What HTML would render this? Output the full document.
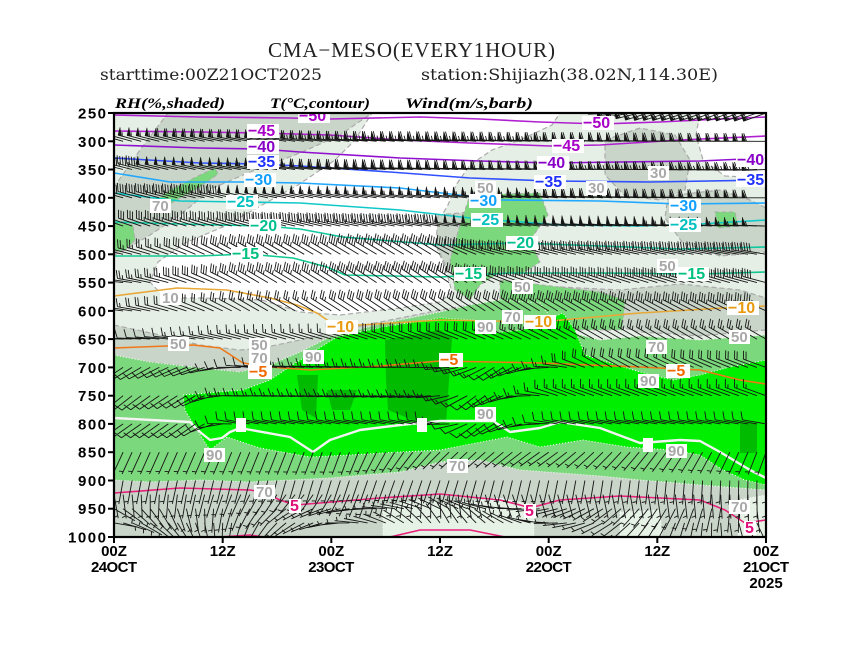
<!DOCTYPE html>
<html><head><meta charset="utf-8">
<style>
html,body{margin:0;padding:0;background:#fff;}
svg{display:block;}
.ax{font-family:"Liberation Sans",sans-serif;font-weight:bold;font-size:15px;fill:#000;}
.tl{font-family:"Liberation Sans",sans-serif;font-weight:bold;font-size:16px;}
.rl{font-family:"Liberation Sans",sans-serif;font-weight:bold;font-size:15px;fill:#a8a8a8;}
.hd{font-family:"Liberation Serif",serif;font-weight:bold;font-style:italic;font-size:15px;fill:#000;}
.ti{font-family:"Liberation Serif",serif;font-size:21px;fill:#222;}
.st{font-family:"DejaVu Serif","Liberation Serif",serif;font-size:16px;fill:#222;}
</style></head>
<body>
<svg id="s" width="844" height="652" viewBox="0 0 844 652" xmlns="http://www.w3.org/2000/svg">
<defs><clipPath id="pc"><rect x="114" y="113" width="652" height="424"/></clipPath></defs>
<rect width="844" height="652" fill="#fff"/>
<text class="ti" x="268" y="57" textLength="287" lengthAdjust="spacing">CMA−MESO(EVERY1HOUR)</text>
<text class="st" x="100" y="80" textLength="222" lengthAdjust="spacingAndGlyphs">starttime:00Z21OCT2025</text>
<text class="st" x="421" y="80" textLength="297" lengthAdjust="spacingAndGlyphs">station:Shijiazh(38.02N,114.30E)</text>
<text class="hd" x="115" y="108" textLength="110" lengthAdjust="spacingAndGlyphs">RH(%,shaded)</text>
<text class="hd" x="270" y="108" textLength="100" lengthAdjust="spacingAndGlyphs">T(°C,contour)</text>
<text class="hd" x="405" y="108" textLength="128" lengthAdjust="spacingAndGlyphs">Wind(m/s,barb)</text>

<g clip-path="url(#pc)">
<!-- RH shading -->
<rect x="114" y="113" width="652" height="250" fill="#e6efe6"/>
<g stroke="#aaaaaa" stroke-width="1.2" stroke-dasharray="5,3">
<polygon fill="#ffffff" points="372,113 560,113 552,125 520,140 492,150 470,165 456,185 448,205 438,222 436,245 446,270 452,292 440,302 400,308 340,315 300,312 262,300 205,298 165,298 150,282 158,262 185,243 225,226 262,205 298,185 335,160 355,140"/>
<polygon fill="#ffffff" points="700,113 766,113 766,178 725,176 703,160 696,135"/>
<polygon fill="#c8d5c8" points="168,113 372,113 340,135 300,153 250,172 213,188 180,215 150,235 125,250 114,255 114,187 140,150"/>
<polygon fill="#c8d5c8" points="605,140 640,128 675,135 690,160 685,190 660,200 625,196 605,175"/>
<polygon fill="#c8d5c8" points="668,196 720,190 750,200 766,208 766,252 720,256 682,242 665,218"/>
<polygon fill="#c8d5c8" points="438,215 470,212 482,238 472,265 448,270 436,245"/>
<polygon fill="#c8d5c8" points="560,287 620,290 680,284 740,290 766,298 766,330 700,336 640,332 600,322 572,305"/>
<polygon fill="#c8d5c8" points="114,325 160,335 200,345 240,350 262,348 300,340 340,330 380,322 440,310 470,305 470,330 440,320 383,327 337,337 300,355 270,365 240,372 200,368 150,362 114,358"/>
</g>
<g fill="#7cd87c" stroke="#aaaaaa" stroke-width="1" stroke-dasharray="4,3">
<polygon points="114,222 133,225 135,240 125,250 114,252"/>
<polygon points="715,212 735,212 738,226 718,228"/>
<polygon points="150,205 170,190 200,175 215,168 218,174 200,187 175,201 158,211"/>
<polygon points="470,195 540,193 548,215 530,240 540,262 520,275 500,272 480,285 470,300 455,290 450,260 460,225"/>
<polygon points="500,280 560,287 600,292 625,300 622,330 540,330 500,320"/>
</g>
<rect x="114" y="440" width="652" height="97" fill="#c8d5c8"/>
<g fill="#e6f2e6" stroke="#ffffff" stroke-width="1" stroke-dasharray="1,2">
<polygon points="383,507 420,500 449,503 500,498 534,505 534,537 383,537"/>
<polygon points="620,512 660,510 662,537 620,537"/>
<polygon points="738,500 766,495 766,537 738,537"/>
</g>
<polygon fill="#7cd87c" stroke="#ffffff" stroke-width="1" stroke-dasharray="1,2" points="114,355 150,362 200,368 240,372 270,365 300,352 330,337 380,324 440,312 470,305 500,300 540,303 560,330 600,340 640,336 700,340 766,335 766,490 700,485 640,480 600,476 520,470 480,460 440,462 400,472 330,478 250,482 200,480 150,482 114,480"/>
<polygon fill="#00ee00" stroke="#ffffff" stroke-width="1" stroke-dasharray="1,2" points="183,395 243,390 270,380 297,362 337,337 383,327 440,318 473,320 493,333 523,330 563,313 575,330 585,355 607,362 640,372 673,380 700,375 730,367 766,360 766,485 745,480 723,470 700,455 673,450 627,447 583,440 540,447 507,437 440,450 400,452 350,455 310,457 260,448 227,437 210,450 197,430 185,410"/>
<g fill="#00bb00">
<polygon points="297,375 318,375 316,418 302,410"/>
<polygon points="327,390 357,390 350,410 332,410"/>
<polygon points="385,340 440,330 452,338 446,423 420,423 388,410 386,380"/>
<polygon points="740,423 757,423 757,453 740,453"/>
</g>

<!-- temperature contours -->
<g fill="none" stroke-width="1.6" stroke-linejoin="round">
<polyline stroke="#b020d0" points="114,115 200,117 290,118 330,119 420,117 480,119 540,122 600,124 660,122 720,119 766,117"/>
<polyline stroke="#b020d0" points="114,131 200,132 260,133 330,135 400,140 470,143 550,146 600,145 680,140 766,136"/>
<polyline stroke="#9010d0" points="114,145 200,148 260,149 300,152 400,158 480,161 550,163 620,162 700,161 766,158"/>
<polyline stroke="#3050ff" points="114,158 200,163 260,164 300,166 390,172 470,178 550,181 650,182 766,180"/>
<polyline stroke="#20a8ff" points="114,173 170,182 240,182 300,183 400,188 450,194 500,200 600,201 680,204 766,203"/>
<polyline stroke="#10c8c8" points="114,193 180,201 240,202 300,203 400,210 470,218 560,225 640,226 700,224 766,220"/>
<polyline stroke="#10c8a0" points="114,222 180,224 265,226 300,229 343,237 440,245 520,243 600,246 680,249 766,247"/>
<polyline stroke="#10c890" points="114,256 200,256 247,254 293,258 327,267 345,275 440,277 510,273 600,273 700,274 766,272"/>
<polyline stroke="#e8a838" points="114,296 177,288 227,290 270,298 297,305 317,313 330,322 360,325 440,320 540,322 640,313 723,308 766,306"/>
<polyline stroke="#f07818" points="114,348 193,345 220,348 243,363 270,367 310,370 380,366 440,361 540,363 640,367 700,370 740,380 766,384"/>
<polyline stroke="#e8207a" points="114,493 180,488 250,490 262,492 280,500 295,505 320,503 380,498 440,494 500,500 520,505 530,508 560,500 620,496 700,500 725,510 745,523 766,520"/>
<polyline stroke="#e8207a" points="205,538 250,535 270,538"/>
<polyline stroke="#e8207a" points="390,537 420,530 470,530 510,538"/>
<polyline stroke="#f4f4f4" stroke-width="2.4" points="114,418 190,422 200,432 210,440 222,438 230,432 240,428 290,437 313,452 330,440 360,430 400,425 440,421 493,421 510,432 540,428 560,422 600,428 640,443 680,440 700,441 720,452 750,470 766,478"/>
</g>

<g id="barbs" fill="none" stroke="#151515" stroke-width="0.9"></g>
<g id="pens" fill="#151515" stroke="#151515" stroke-width="0.5"></g>

<!-- RH labels -->
<g>
<rect x="150" y="199" width="21" height="14" fill="#fff"/><text class="rl" x="152" y="211">70</text>
<rect x="475" y="181" width="21" height="14" fill="#fff"/><text class="rl" x="477" y="193">50</text>
<rect x="648" y="166" width="21" height="14" fill="#fff"/><text class="rl" x="650" y="178">30</text>
<rect x="586" y="181" width="21" height="14" fill="#fff"/><text class="rl" x="588" y="193">30</text>
<rect x="160" y="291" width="21" height="14" fill="#fff"/><text class="rl" x="162" y="303">10</text>
<rect x="168" y="337" width="21" height="14" fill="#fff"/><text class="rl" x="170" y="349">50</text>
<rect x="249" y="338" width="21" height="14" fill="#fff"/><text class="rl" x="251" y="350">50</text>
<rect x="249" y="351" width="21" height="14" fill="#fff"/><text class="rl" x="251" y="363">70</text>
<rect x="303" y="350" width="21" height="14" fill="#fff"/><text class="rl" x="305" y="362">90</text>
<rect x="502" y="310" width="21" height="14" fill="#fff"/><text class="rl" x="504" y="322">70</text>
<rect x="475" y="320" width="21" height="14" fill="#fff"/><text class="rl" x="477" y="332">90</text>
<rect x="512" y="280" width="21" height="14" fill="#fff"/><text class="rl" x="514" y="292">50</text>
<rect x="657" y="259" width="21" height="14" fill="#fff"/><text class="rl" x="659" y="271">50</text>
<rect x="729" y="330" width="21" height="14" fill="#fff"/><text class="rl" x="731" y="342">50</text>
<rect x="646" y="340" width="21" height="14" fill="#fff"/><text class="rl" x="648" y="352">70</text>
<rect x="638" y="374" width="21" height="14" fill="#fff"/><text class="rl" x="640" y="386">90</text>
<rect x="475" y="407" width="21" height="14" fill="#fff"/><text class="rl" x="477" y="419">90</text>
<rect x="666" y="444" width="21" height="14" fill="#fff"/><text class="rl" x="668" y="456">90</text>
<rect x="447" y="459" width="21" height="14" fill="#fff"/><text class="rl" x="449" y="471">70</text>
<rect x="204" y="448" width="21" height="14" fill="#fff"/><text class="rl" x="206" y="460">90</text>
<rect x="254" y="485" width="21" height="14" fill="#fff"/><text class="rl" x="256" y="497">70</text>
<rect x="729" y="500" width="21" height="14" fill="#fff"/><text class="rl" x="731" y="512">70</text>
<rect x="236" y="418" width="10" height="14" fill="#fff"/>
<rect x="417" y="418" width="10" height="14" fill="#fff"/>
<rect x="643" y="438" width="10" height="14" fill="#fff"/>
</g>
<!-- T labels -->
<g>
<rect x="298" y="109" width="32" height="14" fill="#fff"/><text class="tl" fill="#a800c8" x="299" y="121">−50</text>
<rect x="582" y="116" width="32" height="14" fill="#fff"/><text class="tl" fill="#a800c8" x="583" y="128">−50</text>
<rect x="247" y="124" width="32" height="14" fill="#fff"/><text class="tl" fill="#a800c8" x="248" y="136">−45</text>
<rect x="552" y="139" width="32" height="14" fill="#fff"/><text class="tl" fill="#a800c8" x="553" y="151">−45</text>
<rect x="247" y="140" width="32" height="14" fill="#fff"/><text class="tl" fill="#8800c8" x="248" y="152">−40</text>
<rect x="537" y="156" width="32" height="14" fill="#fff"/><text class="tl" fill="#8800c8" x="538" y="168">−40</text>
<rect x="736" y="153" width="32" height="14" fill="#fff"/><text class="tl" fill="#8800c8" x="737" y="165">−40</text>
<rect x="247" y="155" width="32" height="14" fill="#fff"/><text class="tl" fill="#2030ff" x="248" y="167">−35</text>
<rect x="534" y="175" width="32" height="14" fill="#fff"/><text class="tl" fill="#2030ff" x="535" y="187">−35</text>
<rect x="736" y="173" width="32" height="14" fill="#fff"/><text class="tl" fill="#2030ff" x="737" y="185">−35</text>
<rect x="244" y="173" width="32" height="14" fill="#fff"/><text class="tl" fill="#10a0ff" x="245" y="185">−30</text>
<rect x="469" y="194" width="32" height="14" fill="#fff"/><text class="tl" fill="#10a0ff" x="470" y="206">−30</text>
<rect x="669" y="199" width="32" height="14" fill="#fff"/><text class="tl" fill="#10a0ff" x="670" y="211">−30</text>
<rect x="226" y="195" width="32" height="14" fill="#fff"/><text class="tl" fill="#00c0c0" x="227" y="207">−25</text>
<rect x="471" y="213" width="32" height="14" fill="#fff"/><text class="tl" fill="#00c0c0" x="472" y="225">−25</text>
<rect x="669" y="218" width="32" height="14" fill="#fff"/><text class="tl" fill="#00c0c0" x="670" y="230">−25</text>
<rect x="249" y="219" width="32" height="14" fill="#fff"/><text class="tl" fill="#00c090" x="250" y="231">−20</text>
<rect x="506" y="236" width="32" height="14" fill="#fff"/><text class="tl" fill="#00c090" x="507" y="248">−20</text>
<rect x="231" y="247" width="32" height="14" fill="#fff"/><text class="tl" fill="#00c080" x="232" y="259">−15</text>
<rect x="454" y="267" width="32" height="14" fill="#fff"/><text class="tl" fill="#00c080" x="455" y="279">−15</text>
<rect x="677" y="267" width="32" height="14" fill="#fff"/><text class="tl" fill="#00c080" x="678" y="279">−15</text>
<rect x="326" y="320" width="32" height="14" fill="#fff"/><text class="tl" fill="#e89a10" x="327" y="332">−10</text>
<rect x="524" y="315" width="32" height="14" fill="#fff"/><text class="tl" fill="#e89a10" x="525" y="327">−10</text>
<rect x="727" y="301" width="32" height="14" fill="#fff"/><text class="tl" fill="#e89a10" x="728" y="313">−10</text>
<rect x="248" y="365" width="24" height="14" fill="#fff"/><text class="tl" fill="#f06a00" x="249" y="377">−5</text>
<rect x="439" y="353" width="24" height="14" fill="#fff"/><text class="tl" fill="#f06a00" x="440" y="365">−5</text>
<rect x="666" y="364" width="24" height="14" fill="#fff"/><text class="tl" fill="#f06a00" x="667" y="376">−5</text>
<rect x="289" y="499" width="12" height="14" fill="#fff"/><text class="tl" fill="#e0107a" x="290" y="511">5</text>
<rect x="524" y="504" width="12" height="14" fill="#fff"/><text class="tl" fill="#e0107a" x="525" y="516">5</text>
<rect x="744" y="521" width="12" height="14" fill="#fff"/><text class="tl" fill="#e0107a" x="745" y="533">5</text>
</g>
</g>

<!-- frame & axes -->
<rect x="114" y="113" width="652" height="424" fill="none" stroke="#000" stroke-width="2.2"/>
<g stroke="#000" stroke-width="2">
<line x1="108" y1="113" x2="114" y2="113"/><line x1="108" y1="141.3" x2="114" y2="141.3"/>
<line x1="108" y1="169.5" x2="114" y2="169.5"/><line x1="108" y1="197.8" x2="114" y2="197.8"/>
<line x1="108" y1="226.1" x2="114" y2="226.1"/><line x1="108" y1="254.3" x2="114" y2="254.3"/>
<line x1="108" y1="282.6" x2="114" y2="282.6"/><line x1="108" y1="310.9" x2="114" y2="310.9"/>
<line x1="108" y1="339.1" x2="114" y2="339.1"/><line x1="108" y1="367.4" x2="114" y2="367.4"/>
<line x1="108" y1="395.7" x2="114" y2="395.7"/><line x1="108" y1="423.9" x2="114" y2="423.9"/>
<line x1="108" y1="452.2" x2="114" y2="452.2"/><line x1="108" y1="480.5" x2="114" y2="480.5"/>
<line x1="108" y1="508.7" x2="114" y2="508.7"/><line x1="108" y1="537" x2="114" y2="537"/>
<line x1="114" y1="537" x2="114" y2="543"/><line x1="222.7" y1="537" x2="222.7" y2="543"/>
<line x1="331.3" y1="537" x2="331.3" y2="543"/><line x1="440" y1="537" x2="440" y2="543"/>
<line x1="548.7" y1="537" x2="548.7" y2="543"/><line x1="657.3" y1="537" x2="657.3" y2="543"/>
<line x1="766" y1="537" x2="766" y2="543"/>
</g>
<g class="ax" text-anchor="end">
<text x="106" y="118.5" textLength="28">250</text>
<text x="106" y="146.8" textLength="28">300</text>
<text x="106" y="175" textLength="28">350</text>
<text x="106" y="203.3" textLength="28">400</text>
<text x="106" y="231.6" textLength="28">450</text>
<text x="106" y="259.8" textLength="28">500</text>
<text x="106" y="288.1" textLength="28">550</text>
<text x="106" y="316.4" textLength="28">600</text>
<text x="106" y="344.6" textLength="28">650</text>
<text x="106" y="372.9" textLength="28">700</text>
<text x="106" y="401.2" textLength="28">750</text>
<text x="106" y="429.4" textLength="28">800</text>
<text x="106" y="457.7" textLength="28">850</text>
<text x="106" y="486" textLength="28">900</text>
<text x="106" y="514.2" textLength="28">950</text>
<text x="106" y="542.5" textLength="38">1000</text>
</g>
<g class="ax" text-anchor="middle">
<text x="114" y="556">00Z</text><text x="114" y="572" textLength="46">24OCT</text>
<text x="222.7" y="556">12Z</text>
<text x="331.3" y="556">00Z</text><text x="331.3" y="572" textLength="46">23OCT</text>
<text x="440" y="556">12Z</text>
<text x="548.7" y="556">00Z</text><text x="548.7" y="572" textLength="46">22OCT</text>
<text x="657.3" y="556">12Z</text>
<text x="766" y="556">00Z</text><text x="766" y="572" textLength="46">21OCT</text>
<text x="766" y="588">2025</text>
</g>
</svg>
<script>
(function(){
var rows=[
[250,[[114,278,55],[600,272,60],[650,252,60],[766,250,60]]],
[300,[[114,286,55],[350,276,65],[766,270,60]]],
[350,[[114,285,45],[350,276,60],[766,268,65]]],
[400,[[114,286,40],[350,280,55],[766,270,60]]],
[450,[[114,290,30],[350,282,45],[766,272,55]]],
[500,[[114,282,20],[250,300,35],[440,302,40],[500,285,45],[766,280,40]]],
[550,[[114,275,20],[250,300,35],[440,305,40],[520,290,35],[766,285,40]]],
[600,[[114,275,15],[250,300,25],[440,305,30],[600,300,35],[766,295,35]]],
[650,[[114,270,10],[250,285,15],[440,290,20],[600,300,25],[766,300,25]]],
[700,[[114,235,10],[200,250,12],[250,275,12],[440,270,15],[500,235,12],[600,300,20],[766,290,20]]],
[750,[[114,230,12],[200,240,12],[230,270,15],[440,265,15],[480,230,12],[560,290,15],[766,290,15]]],
[800,[[114,235,10],[200,235,10],[240,280,10],[440,280,12],[480,230,10],[560,280,10],[766,280,10]]],
[850,[[114,205,7],[350,200,7],[440,225,7],[550,235,7],[700,210,7],[766,200,7]]],
[900,[[114,190,6],[400,200,6],[766,180,6]]],
[925,[[114,170,6],[300,220,6],[500,160,6],[766,180,6]]],
[950,[[114,120,6],[300,240,6],[450,300,6],[766,170,6]]],
[975,[[114,100,5],[300,240,5],[450,330,5],[766,150,5]]],
[1000,[[114,90,5],[766,160,5]]]
];
function interp(c,x){
 if(x<=c[0][0])return [c[0][1],c[0][2]];
 for(var i=1;i<c.length;i++){
  if(x<=c[i][0]){var a=c[i-1],b=c[i],t=(x-a[0])/(b[0]-a[0]);
   return [a[1]+(b[1]-a[1])*t,a[2]+(b[2]-a[2])*t];}
 }
 var l=c[c.length-1];return [l[1],l[2]];
}
function f(v){return v.toFixed(1);}
var d='',tri='';
for(var r=0;r<rows.length;r++){
 var p=rows[r][0],c=rows[r][1];
 var y0=113+(p-250)*424/750;
 for(var i=0;i<=72;i++){
  var x0=114+i*652/72;
  var ds=interp(c,x0),dir=ds[0],spd=ds[1];
  var a=dir*Math.PI/180,ux=Math.sin(a),uy=-Math.cos(a),nx=-uy,ny=ux;
  var L=24,F=8,sp=2.7;
  d+='M'+f(x0)+' '+f(y0)+'L'+f(x0+ux*L)+' '+f(y0+uy*L);
  var s=Math.round(spd/5)*5+0.01,pos=L;
  while(s>=50){
   var ax=x0+ux*pos,ay=y0+uy*pos,bx=x0+ux*(pos-3.5),by=y0+uy*(pos-3.5);
   tri+='M'+f(ax)+' '+f(ay)+'L'+f(ax+nx*F)+' '+f(ay+ny*F)+'L'+f(bx)+' '+f(by)+'Z';
   pos-=4.5;s-=50;
  }
  while(s>=10){
   var bx2=x0+ux*pos,by2=y0+uy*pos;
   d+='M'+f(bx2)+' '+f(by2)+'L'+f(bx2+nx*F+ux*F*0.35)+' '+f(by2+ny*F+uy*F*0.35);
   pos-=sp;s-=10;
  }
  if(s>=5){
   if(pos==L)pos-=sp;
   var bx3=x0+ux*pos,by3=y0+uy*pos;
   d+='M'+f(bx3)+' '+f(by3)+'L'+f(bx3+nx*F*0.5+ux*F*0.17)+' '+f(by3+ny*F*0.5+uy*F*0.17);
  }
 }
}
var ns='http://www.w3.org/2000/svg';
var p1=document.createElementNS(ns,'path');p1.setAttribute('d',d);
document.getElementById('barbs').appendChild(p1);
var p2=document.createElementNS(ns,'path');p2.setAttribute('d',tri);
document.getElementById('pens').appendChild(p2);
})();
</script>
</body></html>
